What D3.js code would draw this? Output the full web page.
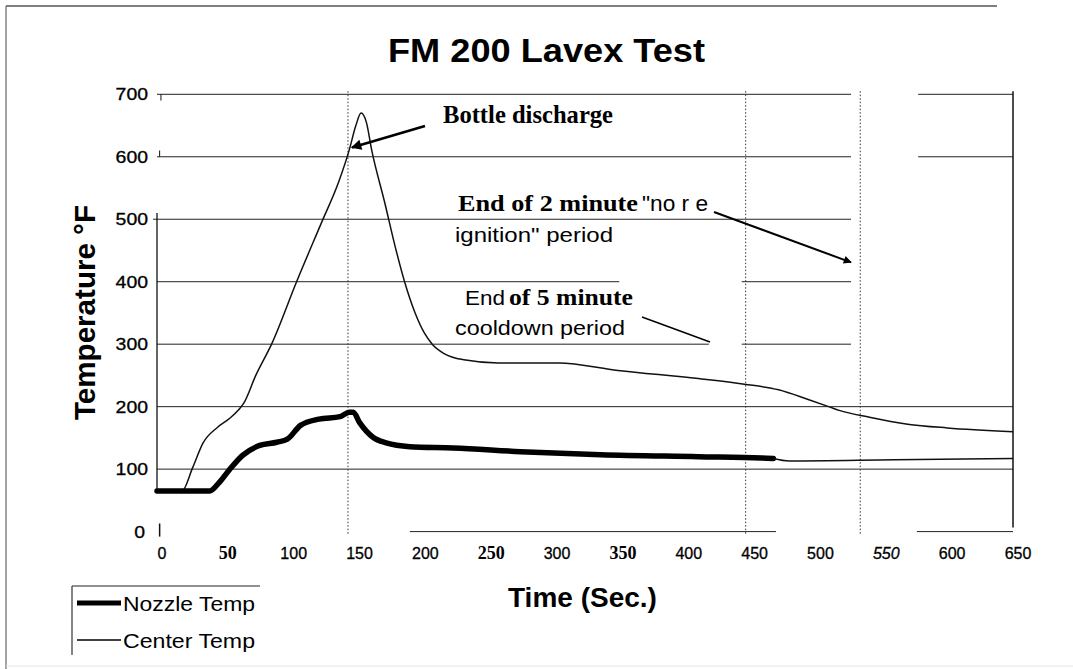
<!DOCTYPE html>
<html><head><meta charset="utf-8">
<script src="https://cdn.jsdelivr.net/npm/d3@7"></script>
<style>body{margin:0;background:#fff}svg{display:block}</style>
</head><body>
<script>
// ---- data ----
const title = "FM 200 Lavex Test";
const xTicks = [0,50,100,150,200,250,300,350,400,450,500,550,600,650];
const yTicks = [0,100,200,300,400,500,600,700];
const centerTime = [0,19,27,35,46,55,62,66,75,87,106,125,138,146,151,155,159,163,173,181,188,196,203,209,218,233,259,305,350,411,446,472,495,510,518,541,570,600,650];
const centerTemp = [65,65,102,142,167,181,195,206,250,300,400,495,560,611,650,670,655,611,526,455,400,350,318,300,285,275,270,270,258,245,236,227,211,200,194,183,172,166,160];
const nozzleTime = [0,40,47,55,65,78,91,99,109,123,139,146,149,154,164,174,192,225,276,337,411,459,468,480,560,650];
const nozzleTemp = [65,65,78,99,122,138,143,148,170,180,184,191,191,174,151,142,136,134,128,123,120,118,117,113,115,117];
const thickEnd = 468;
const markerTimes = [145,447,534];
const seriesNames = ["Nozzle Temp","Center Temp"];

const W = 1073, H = 669;
const svg = d3.select("body").append("svg").attr("width",W).attr("height",H);
const x = d3.scaleLinear().domain([0,650]).range([157,1013]);
const y = d3.scaleLinear().domain([0,700]).range([531.6,94.3]);
const sans = "'Liberation Sans', Arial, sans-serif";
const serif = "'Liberation Serif', 'Times New Roman', serif";

// outer frame
svg.append("line").attr("x1",6).attr("x2",997).attr("y1",6).attr("y2",6).attr("stroke","#555").attr("stroke-width",1.5);
svg.append("line").attr("x1",6).attr("x2",6).attr("y1",6).attr("y2",H).attr("stroke","#666").attr("stroke-width",1.2);
svg.append("line").attr("x1",6).attr("x2",W).attr("y1",666).attr("y2",666).attr("stroke","#e4e4e4").attr("stroke-width",1);

// gridlines (segments as in the scanned chart)
const gridSegs = [
  {v:700,a:0,b:527},{v:700,a:578,b:650},
  {v:600,a:0,b:527},{v:600,a:578,b:650},
  {v:500,a:-3,b:527},
  {v:400,a:0,b:351},{v:400,a:444,b:527},
  {v:300,a:0,b:419},{v:300,a:444,b:527},
  {v:200,a:0,b:650},
  {v:100,a:0,b:650},
  {v:0,a:192,b:470},{v:0,a:577,b:650}
];
svg.append("g").selectAll("line").data(gridSegs).join("line")
  .attr("x1",d=>x(d.a)).attr("x2",d=>x(d.b))
  .attr("y1",d=>y(d.v)).attr("y2",d=>y(d.v))
  .attr("stroke","#222").attr("stroke-width",1);
// right border of plot box
svg.append("line").attr("x1",x(650)).attr("x2",x(650)).attr("y1",y(700)-3).attr("y2",y(0)-4)
  .attr("stroke","#111").attr("stroke-width",1.5);
// left axis line
svg.append("line").attr("x1",x(0)).attr("x2",x(0)).attr("y1",y(510)).attr("y2",y(63))
  .attr("stroke","#111").attr("stroke-width",1.3);
// small ticks
svg.append("line").attr("x1",x(3)).attr("x2",x(3)).attr("y1",y(700)).attr("y2",y(690)).attr("stroke","#111");
svg.append("line").attr("x1",x(2)).attr("x2",x(2)).attr("y1",y(610)).attr("y2",y(600)).attr("stroke","#111");
svg.append("line").attr("x1",x(2)).attr("x2",x(2)).attr("y1",y(13)).attr("y2",y(-8)).attr("stroke","#111").attr("stroke-width",1.5);

// vertical dotted marker lines
svg.append("g").selectAll("line").data(markerTimes).join("line")
  .attr("x1",d=>x(d)).attr("x2",d=>x(d)).attr("y1",y(705)).attr("y2",y(-5))
  .attr("stroke","#333").attr("stroke-width",1).attr("stroke-dasharray","1.5,2");

// axis tick labels
svg.append("g").selectAll("text").data(yTicks).join("text")
  .attr("x",d=>d===0?145:148).attr("y",d=>y(d)+6)
  .attr("text-anchor","end").attr("font-family",sans).attr("font-size",16)
  .attr("stroke","#000").attr("stroke-width",0.3)
  .attr("textLength",d=>String(d).length*10.8).attr("lengthAdjust","spacingAndGlyphs")
  .text(d=>d);
svg.append("g").selectAll("text").data(xTicks).join("text")
  .attr("x",d=>x(d)+5).attr("y",559)
  .attr("text-anchor","middle")
  .attr("font-family",d=>(d===50||d===250||d===350)?serif:sans)
  .attr("font-weight",d=>(d===50||d===250||d===350)?"bold":"normal")
  .attr("font-style",d=>d===550?"italic":"normal")
  .attr("font-size",d=>(d===50||d===250||d===350)?18:16)
  .attr("stroke","#000").attr("stroke-width",d=>(d===50||d===250||d===350)?0:0.3)
  .text(d=>d);

// series lines
const line = d3.line().x(d=>x(d[0])).y(d=>y(d[1])).curve(d3.curveMonotoneX);
const centerPts = centerTime.map((t,i)=>[t,centerTemp[i]]);
const nozzlePts = nozzleTime.map((t,i)=>[t,nozzleTemp[i]]);
svg.append("path").attr("d",line(centerPts)).attr("fill","none").attr("stroke","#111").attr("stroke-width",1.5);
svg.append("path").attr("d",line(nozzlePts.filter(p=>p[0]<=thickEnd))).attr("fill","none")
  .attr("stroke","#000").attr("stroke-width",5.5).attr("stroke-linejoin","round").attr("stroke-linecap","round");
svg.append("path").attr("d",line(nozzlePts.filter(p=>p[0]>=thickEnd))).attr("fill","none")
  .attr("stroke","#111").attr("stroke-width",1.6);

// title & axis titles
svg.append("text").attr("x",546.5).attr("y",62).attr("text-anchor","middle")
  .attr("font-family",sans).attr("font-weight","bold").attr("font-size",33)
  .attr("textLength",317).attr("lengthAdjust","spacingAndGlyphs").text(title);
svg.append("text").attr("transform","translate(95,420) rotate(-90)")
  .attr("font-family",sans).attr("font-weight","bold").attr("font-size",30)
  .attr("textLength",215).attr("lengthAdjust","spacingAndGlyphs").text("Temperature °F");
svg.append("text").attr("x",508).attr("y",607)
  .attr("font-family",sans).attr("font-weight","bold").attr("font-size",28)
  .text("Time (Sec.)");

// arrow markers
const defs = svg.append("defs");
defs.append("marker").attr("id","ah").attr("viewBox","0 0 10 10").attr("refX",9).attr("refY",5)
  .attr("markerWidth",5).attr("markerHeight",4).attr("markerUnits","strokeWidth").attr("orient","auto")
  .append("path").attr("d","M0,0 L10,5 L0,10 z").attr("fill","#000");

// annotation 1: Bottle discharge
svg.append("text").attr("x",443).attr("y",123).attr("font-family",serif).attr("font-weight","bold")
  .attr("font-size",26).attr("textLength",170).attr("lengthAdjust","spacingAndGlyphs").text("Bottle discharge");
svg.append("line").attr("x1",425).attr("y1",126).attr("x2",x(148)).attr("y2",y(615))
  .attr("stroke","#000").attr("stroke-width",2.6).attr("marker-end","url(#ah)");

// annotation 2: End of 2 minute "no re ignition" period
svg.append("text").attr("x",458).attr("y",211).attr("font-family",serif).attr("font-weight","bold")
  .attr("font-size",23).attr("textLength",180).attr("lengthAdjust","spacingAndGlyphs").text("End of 2 minute");
svg.append("text").attr("x",642).attr("y",211).attr("font-family",sans)
  .attr("font-size",22).attr("textLength",66).attr("lengthAdjust","spacingAndGlyphs").text("\"no r  e");
svg.append("text").attr("x",455).attr("y",242).attr("font-family",sans).attr("font-size",21)
  .attr("textLength",158).attr("lengthAdjust","spacingAndGlyphs").text("ignition\" period");
svg.append("line").attr("x1",714).attr("y1",212).attr("x2",x(527)).attr("y2",y(431))
  .attr("stroke","#000").attr("stroke-width",2).attr("marker-end","url(#ah)");

// annotation 3: End of 5 minute cooldown period
svg.append("text").attr("x",465).attr("y",305).attr("font-family",sans).attr("font-size",21)
  .attr("textLength",40).attr("lengthAdjust","spacingAndGlyphs").text("End");
svg.append("text").attr("x",509).attr("y",305).attr("font-family",serif).attr("font-weight","bold")
  .attr("font-size",23).attr("textLength",124).attr("lengthAdjust","spacingAndGlyphs").text("of 5 minute");
svg.append("text").attr("x",455).attr("y",335).attr("font-family",sans).attr("font-size",21)
  .attr("textLength",170).attr("lengthAdjust","spacingAndGlyphs").text("cooldown period");
svg.append("line").attr("x1",642).attr("y1",317).attr("x2",710).attr("y2",342)
  .attr("stroke","#000").attr("stroke-width",1.4);

// legend
svg.append("line").attr("x1",72).attr("x2",260).attr("y1",586).attr("y2",586).attr("stroke","#222").attr("stroke-width",1.2);
svg.append("line").attr("x1",72).attr("x2",72).attr("y1",586).attr("y2",655).attr("stroke","#333").attr("stroke-width",1.2);
const lg = svg.append("g").selectAll("g").data(seriesNames).join("g")
  .attr("transform",(d,i)=>`translate(0,${i===0?603:640})`);
lg.append("line").attr("x1",77).attr("x2",121).attr("y1",0).attr("y2",0)
  .attr("stroke","#000").attr("stroke-width",(d,i)=>i===0?5:1.4);
lg.append("text").attr("x",123).attr("y",8).attr("font-family",sans).attr("font-size",20)
  .attr("textLength",132).attr("lengthAdjust","spacingAndGlyphs").text(d=>d);
</script>
</body></html>
